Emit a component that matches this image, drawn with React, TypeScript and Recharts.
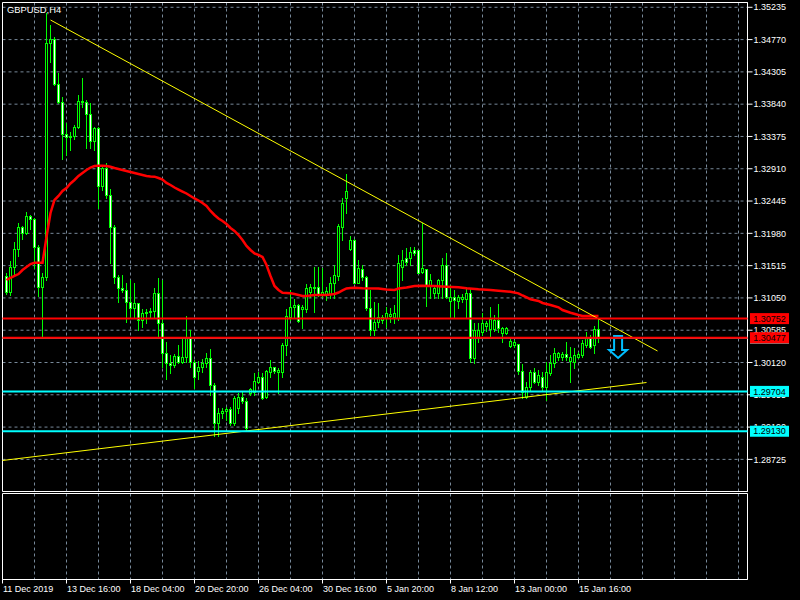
import React from 'react';
import {
  ComposedChart,
  Bar,
  Line,
  XAxis,
  YAxis,
  CartesianGrid,
  ReferenceLine,
  ReferenceArea,
  ReferenceDot,
} from 'recharts';

const FONT = "'Liberation Sans', Arial, sans-serif";
const GREEN = '#00ff00';
const GRID = '#778899';

const chartTitle = 'GBPUSD,H4';

// OHLC of the H4 bars (bar index = position in array)
const opens = [
  1.31366, 1.31135, 1.31495, 1.31754, 1.32071, 1.31985, 1.3223, 1.32186, 1.31783, 1.31207,
  1.31351, 1.34721, 1.34778, 1.3413, 1.33871, 1.3341, 1.33367, 1.33382, 1.33511, 1.33886,
  1.33871, 1.33698, 1.3331, 1.33497, 1.32662, 1.32921, 1.32532, 1.32071, 1.31351, 1.31193,
  1.31164, 1.30991, 1.30905, 1.30977, 1.30732, 1.30833, 1.30847, 1.30862, 1.31121, 1.30689,
  1.30257, 1.30113, 1.30084, 1.30214, 1.30127, 1.30199, 1.30473, 1.30127, 1.29998, 1.30055,
  1.30113, 1.30185, 1.29796, 1.29249, 1.29393, 1.29422, 1.2945, 1.29249, 1.29465, 1.29623,
  1.29566, 1.29681, 1.29695, 1.29839, 1.29911, 1.29623, 1.29983, 1.30055, 1.29983, 1.29983,
  1.30372, 1.30775, 1.30919, 1.30948, 1.3089, 1.3089, 1.31135, 1.31207, 1.31207, 1.31106,
  1.31106, 1.31106, 1.31265, 1.31366, 1.32071, 1.32489, 1.31754, 1.31884, 1.31265, 1.31466,
  1.31351, 1.30905, 1.30588, 1.30703, 1.30732, 1.30761, 1.3079, 1.30775, 1.30761, 1.31495,
  1.31625, 1.31625, 1.3174, 1.3174, 1.31423, 1.31466, 1.31236, 1.31121, 1.31121, 1.31308,
  1.31524, 1.31006, 1.31063, 1.31006, 1.31034, 1.31034, 1.31121, 1.30185, 1.30487, 1.30559,
  1.30646, 1.30602, 1.30602, 1.30732, 1.30545, 1.30545, 1.30358, 1.30372, 1.30386, 1.29998,
  1.29623, 1.29767, 1.29983, 1.29839, 1.29911, 1.29767, 1.29969, 1.30113, 1.30199, 1.30199,
  1.30242, 1.30142, 1.30127, 1.30199, 1.30228, 1.30372, 1.30487, 1.30372, 1.30602,
];
const highs = [
  1.31409, 1.31582, 1.31855, 1.32129, 1.32086, 1.32287, 1.32244, 1.32201, 1.31812, 1.31409,
  1.35153, 1.3498, 1.34807, 1.34289, 1.33943, 1.33569, 1.33439, 1.3354, 1.33972, 1.34217,
  1.339, 1.33857, 1.33511, 1.33511, 1.32964, 1.32993, 1.32618, 1.321, 1.3138, 1.3138,
  1.31265, 1.31308, 1.31265, 1.30977, 1.3089, 1.3089, 1.30905, 1.31193, 1.31337, 1.31308,
  1.30415, 1.30228, 1.30242, 1.30372, 1.30473, 1.3079, 1.30588, 1.30156, 1.30142, 1.3017,
  1.30257, 1.30314, 1.29825, 1.29465, 1.29465, 1.29479, 1.29479, 1.29638, 1.29681, 1.29695,
  1.29609, 1.29753, 1.29969, 1.29983, 1.29969, 1.30012, 1.30156, 1.30055, 1.30041, 1.30401,
  1.3089, 1.31164, 1.31034, 1.30962, 1.30948, 1.3125, 1.3125, 1.31495, 1.31495, 1.31481,
  1.31207, 1.31351, 1.31524, 1.32114, 1.32489, 1.32834, 1.31942, 1.31898, 1.31596, 1.31524,
  1.31366, 1.31164, 1.30991, 1.30977, 1.30804, 1.30919, 1.30905, 1.30948, 1.31668, 1.3174,
  1.31769, 1.31783, 1.31783, 1.3174, 1.32129, 1.31466, 1.31394, 1.31207, 1.31322, 1.31625,
  1.31697, 1.31236, 1.31164, 1.31092, 1.31106, 1.31207, 1.31193, 1.30689, 1.30689, 1.30833,
  1.30718, 1.30919, 1.30804, 1.30962, 1.30631, 1.30631, 1.30458, 1.30444, 1.30386, 1.30098,
  1.29839, 1.30012, 1.30041, 1.30012, 1.29983, 1.30127, 1.30228, 1.30329, 1.30271, 1.30271,
  1.30415, 1.30343, 1.30329, 1.30271, 1.30444, 1.30559, 1.30516, 1.30646, 1.30761,
];
const lows = [
  1.31106, 1.31092, 1.31394, 1.31654, 1.31898, 1.3197, 1.32042, 1.31481, 1.31078, 1.30502,
  1.31308, 1.34447, 1.34116, 1.33857, 1.3305, 1.33108, 1.3318, 1.33338, 1.33497, 1.33799,
  1.33209, 1.33209, 1.3318, 1.32345, 1.32604, 1.32489, 1.31553, 1.31265, 1.30991, 1.31135,
  1.30703, 1.30775, 1.30775, 1.30588, 1.30631, 1.30689, 1.30775, 1.30775, 1.30487, 1.30055,
  1.29882, 1.29969, 1.30055, 1.30113, 1.30113, 1.30127, 1.30055, 1.29753, 1.29882, 1.29983,
  1.30055, 1.29652, 1.29062, 1.29062, 1.29321, 1.29292, 1.2922, 1.2922, 1.29393, 1.29537,
  1.29148, 1.29652, 1.29652, 1.29825, 1.29594, 1.29609, 1.29911, 1.29969, 1.29681, 1.29911,
  1.30228, 1.30732, 1.30775, 1.30703, 1.30617, 1.30847, 1.31063, 1.30847, 1.31078, 1.31063,
  1.3102, 1.31049, 1.31049, 1.31308, 1.31884, 1.32273, 1.3174, 1.31265, 1.31265, 1.31308,
  1.30876, 1.30516, 1.30516, 1.30631, 1.30689, 1.30631, 1.30703, 1.30689, 1.30732, 1.31308,
  1.31524, 1.31524, 1.31668, 1.31409, 1.31409, 1.30934, 1.31049, 1.31049, 1.31049, 1.31049,
  1.31049, 1.30775, 1.30775, 1.30905, 1.30991, 1.30775, 1.30127, 1.30113, 1.30415, 1.30516,
  1.30574, 1.30502, 1.30574, 1.30559, 1.30415, 1.3053, 1.30343, 1.30343, 1.29954, 1.29609,
  1.29609, 1.29724, 1.29825, 1.29796, 1.29724, 1.2958, 1.2994, 1.30055, 1.30156, 1.30156,
  1.30156, 1.29839, 1.30041, 1.30185, 1.30199, 1.30343, 1.30329, 1.30257, 1.30415,
];
const closes = [
  1.31135, 1.31495, 1.31754, 1.32071, 1.31985, 1.3223, 1.32186, 1.31783, 1.31207, 1.31351,
  1.34721, 1.34778, 1.3413, 1.33871, 1.3341, 1.33367, 1.33382, 1.33511, 1.33886, 1.33871,
  1.33698, 1.3331, 1.33497, 1.32662, 1.32921, 1.32532, 1.32071, 1.31351, 1.31193, 1.31164,
  1.30991, 1.30905, 1.30977, 1.30732, 1.30833, 1.30847, 1.30862, 1.31121, 1.30689, 1.30257,
  1.30113, 1.30084, 1.30214, 1.30127, 1.30199, 1.30473, 1.30127, 1.29911, 1.30055, 1.30113,
  1.30185, 1.29796, 1.29249, 1.29393, 1.29422, 1.2945, 1.29249, 1.29609, 1.29623, 1.29566,
  1.29177, 1.29738, 1.29854, 1.29911, 1.29609, 1.29998, 1.30055, 1.29998, 1.30012, 1.30372,
  1.3079, 1.30919, 1.30948, 1.30718, 1.30919, 1.31193, 1.31207, 1.31193, 1.31106, 1.31135,
  1.3115, 1.31265, 1.3138, 1.32086, 1.32417, 1.3259, 1.31884, 1.31265, 1.31481, 1.31351,
  1.30905, 1.30588, 1.30703, 1.30775, 1.30775, 1.30833, 1.30818, 1.30833, 1.31553, 1.31596,
  1.31567, 1.31711, 1.31697, 1.31409, 1.31481, 1.31236, 1.31308, 1.31193, 1.31308, 1.31524,
  1.31063, 1.31063, 1.3102, 1.31063, 1.31063, 1.31121, 1.30185, 1.30588, 1.30588, 1.30689,
  1.30689, 1.30746, 1.30732, 1.30617, 1.30617, 1.30617, 1.3043, 1.30415, 1.29998, 1.29695,
  1.29767, 1.29983, 1.29839, 1.2994, 1.29767, 1.29983, 1.30113, 1.30257, 1.30257, 1.30242,
  1.30199, 1.30199, 1.30228, 1.30242, 1.30401, 1.30487, 1.30343, 1.30602, 1.30487,
];

// Moving average (red), read at selected bars: [bar index, price]
const maPoints: [number, number][] = [
  [0, 1.31308], [1, 1.31337], [2, 1.31366], [3, 1.31394], [4, 1.31452], [5, 1.31495], [6, 1.31538],
  [7, 1.31557], [9, 1.31557], [10, 1.31927], [11, 1.32273], [12, 1.3246], [13, 1.32518], [14, 1.3259],
  [15, 1.32633], [16, 1.32698], [17, 1.32748], [18, 1.32806], [19, 1.32849], [20, 1.32892], [21, 1.32928],
  [22, 1.3295], [23, 1.32954], [24, 1.32954], [25, 1.3295], [26, 1.3294], [27, 1.32921], [28, 1.32907],
  [29, 1.32892], [30, 1.32878], [31, 1.32863], [32, 1.32849], [33, 1.32834], [34, 1.3282], [35, 1.32806],
  [36, 1.32798], [37, 1.32796], [38, 1.32777], [39, 1.32755], [40, 1.32705], [41, 1.32676], [42, 1.3264],
  [43, 1.32611], [44, 1.32582], [45, 1.32554], [46, 1.32518], [47, 1.32482], [48, 1.32453], [49, 1.32417],
  [50, 1.32374], [51, 1.32302], [52, 1.32244], [53, 1.32194], [54, 1.32158], [55, 1.32114], [56, 1.32057],
  [57, 1.32014], [58, 1.31956], [59, 1.31884], [60, 1.31798], [61, 1.3174], [62, 1.3169], [63, 1.31668],
  [64, 1.31639], [65, 1.31524], [66, 1.31366], [67, 1.31222], [68, 1.31164], [69, 1.31125], [70, 1.31121],
  [71, 1.31116], [72, 1.31106], [73, 1.31092], [74, 1.31078], [75, 1.31078], [76, 1.31085], [77, 1.31092],
  [80, 1.31092], [81, 1.31099], [82, 1.31106], [83, 1.31128], [84, 1.31157], [85, 1.31186], [86, 1.31193],
  [87, 1.31197], [89, 1.31188], [93, 1.31186], [95, 1.31171], [97, 1.31164], [98, 1.31186], [100, 1.312],
  [102, 1.31222], [104, 1.31226], [107, 1.31222], [110, 1.31212], [113, 1.31203], [115, 1.31188],
  [118, 1.31174], [121, 1.31164], [123, 1.31154], [126, 1.31139], [128, 1.31116], [129, 1.31085],
  [131, 1.31031], [133, 1.31006], [134, 1.30977], [136, 1.30948], [138, 1.30915], [139, 1.30876],
  [141, 1.30837], [143, 1.30804], [144, 1.3079], [148, 1.3079],
];

const priceTicks = [
  1.35235, 1.3477, 1.34305, 1.3384, 1.33375, 1.3291, 1.32445, 1.3198, 1.31515, 1.3105, 1.30585,
  1.3012, 1.29655, 1.2919, 1.28725,
];
const timeTicks = [0, 16, 32, 48, 64, 80, 96, 112, 128, 144];
const timeLabels = [
  '11 Dec 2019', '13 Dec 16:00', '18 Dec 04:00', '20 Dec 20:00', '26 Dec 04:00',
  '30 Dec 16:00', '5 Jan 20:00', '8 Jan 12:00', '13 Jan 00:00', '15 Jan 16:00',
];
const gridSlots = [8, 16, 24, 32, 40, 48, 56, 64, 72, 80, 88, 96, 104, 112, 120, 128, 136, 144, 152, 160, 168, 176, 184];

const resistanceLevels = [1.30752, 1.30477];
const supportLevels = [1.29704, 1.2913];
const bidPrice = 1.30466;
const upperTrend = [{ x: 12, y: 1.35052 }, { x: 163.75, y: 1.30286 }];
const lowerTrend = [{ x: 0, y: 1.28709 }, { x: 161, y: 1.29832 }];
const sellSignal = { x: 153.9, y: 1.30343 };

const X_DOMAIN: [number, number] = [0, 186.25];
const Y_DOMAIN: [number, number] = [1.282624, 1.35304];

const bars = opens.map((o, i) => ({
  x: i + 1,
  open: o,
  high: highs[i],
  low: lows[i],
  close: closes[i],
  range: [lows[i], highs[i]],
  ma: null as number | null,
}));
maPoints.forEach(([i, v]) => {
  bars[i].ma = v;
});

const Candle = (props: any) => {
  const { x, y, width, height, payload } = props;
  if (!payload || x == null || y == null) return null;
  const { open, close, high, low } = payload;
  const top = Math.min(y, y + height);
  const h = Math.abs(height);
  const span = high - low;
  const py = (v: number) => (span > 0 ? top + ((high - v) / span) * h : top);
  const cx = Math.floor(x + width / 2);
  const bodyTop = Math.round(py(Math.max(open, close)));
  const bodyBot = Math.round(py(Math.min(open, close)));
  const bh = Math.max(bodyBot - bodyTop, 0);
  const wTop = Math.round(top);
  const wBot = Math.round(top + h);
  const bull = close >= open;
  return (
    <g>
      <rect x={cx} y={wTop} width={1} height={Math.max(1, wBot - wTop + 1)} fill={GREEN} />
      <rect x={cx - 1} y={bodyTop} width={3} height={bh + 1} fill={GREEN} />
      {bh >= 2 && (
        <rect x={cx} y={bodyTop + 1} width={1} height={bh - 1} fill={bull ? '#000' : '#fff'} />
      )}
    </g>
  );
};

const PriceTag = (props: any) => {
  const { viewBox, bg, value } = props;
  if (!viewBox) return null;
  const x = viewBox.x + viewBox.width + 2.5;
  const y = viewBox.y;
  return (
    <g>
      <rect x={x} y={y - 5.5} width={39} height={11} fill={bg} />
      <text
        x={x + 19.5}
        y={y}
        dy="0.35em"
        textAnchor="middle"
        fontSize={9}
        fontFamily={FONT}
        fill="#000"
      >
        {value.toFixed(5)}
      </text>
    </g>
  );
};

const ArrowDown = (props: any) => {
  const { cx, cy } = props;
  if (cx == null || cy == null) return null;
  const d = `M${cx - 4},${cy - 11} L${cx + 4},${cy - 11} L${cx + 4},${cy + 3} L${cx + 9},${cy + 3} L${cx},${cy + 11} L${cx - 9},${cy + 3} L${cx - 4},${cy + 3} Z`;
  return <path d={d} fill="none" stroke="#00bfff" strokeWidth={2} />;
};

const TimeTick = (props: any) => {
  const { x, y, payload } = props;
  const idx = timeTicks.indexOf(payload.value);
  return (
    <text x={x + 0.5} y={y} dy="0.71em" textAnchor="start" fontSize={9} fontFamily={FONT} fill="#fff">
      {idx >= 0 ? timeLabels[idx] : ''}
    </text>
  );
};

export default function App() {
  return (
    <div
      style={{
        position: 'absolute',
        left: 0,
        top: 0,
        width: 800,
        height: 600,
        background: '#000',
        overflow: 'hidden',
      }}
    >
      {/* main price panel */}
      <div style={{ position: 'absolute', left: 0, top: 0 }}>
        <ComposedChart
          width={800}
          height={492}
          data={bars}
          margin={{ top: 2.5, right: 0, bottom: 0.5, left: 2.5 }}
        >
          <CartesianGrid stroke={GRID} strokeDasharray="3 3" verticalValues={gridSlots} />
          <XAxis type="number" dataKey="x" domain={X_DOMAIN} allowDataOverflow hide />
          <YAxis
            orientation="right"
            width={52.5}
            type="number"
            domain={Y_DOMAIN}
            allowDataOverflow
            ticks={priceTicks}
            interval={0}
            tickSize={5}
            tickMargin={1}
            axisLine={{ stroke: '#fff' }}
            tickLine={{ stroke: '#fff' }}
            tick={{ fill: '#fff', fontSize: 9, fontFamily: FONT }}
            tickFormatter={(v: number) => v.toFixed(5)}
          />
          <Bar dataKey="range" barSize={3} shape={<Candle />} isAnimationActive={false} />
          <Line
            type="linear"
            dataKey="ma"
            stroke="#ff0000"
            strokeWidth={2.5}
            dot={false}
            connectNulls
            isAnimationActive={false}
          />
          <ReferenceLine segment={upperTrend} stroke="#ffff00" strokeWidth={1} />
          <ReferenceLine segment={lowerTrend} stroke="#ffff00" strokeWidth={1} />
          <ReferenceDot x={sellSignal.x} y={sellSignal.y} r={10} shape={<ArrowDown />} />
          <ReferenceArea
            x1={X_DOMAIN[0]}
            x2={X_DOMAIN[1]}
            y1={Y_DOMAIN[0]}
            y2={Y_DOMAIN[1]}
            fill="none"
            stroke="#fff"
            strokeWidth={1}
          />
        </ComposedChart>
      </div>

      {/* horizontal level lines with their price tags, drawn over the price axis */}
      <div style={{ position: 'absolute', left: 0, top: 0 }}>
        <ComposedChart
          width={800}
          height={492}
          data={bars}
          margin={{ top: 2.5, right: 52.5, bottom: 0.5, left: 2.5 }}
        >
          <XAxis type="number" dataKey="x" domain={X_DOMAIN} allowDataOverflow hide />
          <YAxis hide type="number" domain={Y_DOMAIN} allowDataOverflow />
          <Line dataKey="close" stroke="none" dot={false} isAnimationActive={false} />
          <ReferenceLine
            y={bidPrice}
            stroke="#808080"
            strokeWidth={1}
            label={<PriceTag bg="#808080" value={bidPrice} />}
          />
          {resistanceLevels.map((v) => (
            <ReferenceLine
              key={v}
              y={v}
              stroke="#ff0000"
              strokeWidth={2}
              label={<PriceTag bg="#ff0000" value={v} />}
            />
          ))}
          {supportLevels.map((v) => (
            <ReferenceLine
              key={v}
              y={v}
              stroke="#00ffff"
              strokeWidth={2}
              label={<PriceTag bg="#00ffff" value={v} />}
            />
          ))}
        </ComposedChart>
      </div>

      {/* empty lower panel with the time axis */}
      <div style={{ position: 'absolute', left: 0, top: 492 }}>
        <ComposedChart
          width={800}
          height={108}
          data={bars}
          margin={{ top: 1.5, right: 52.5, bottom: 0, left: 2.5 }}
        >
          <CartesianGrid stroke={GRID} strokeDasharray="3 3" horizontal={false} verticalValues={gridSlots} />
          <XAxis
            type="number"
            dataKey="x"
            domain={X_DOMAIN}
            allowDataOverflow
            ticks={timeTicks}
            interval={0}
            height={20.5}
            tickSize={4}
            axisLine={{ stroke: '#fff' }}
            tickLine={{ stroke: '#fff' }}
            tick={<TimeTick />}
          />
          <YAxis hide type="number" domain={Y_DOMAIN} allowDataOverflow />
          <Line dataKey="close" stroke="none" dot={false} isAnimationActive={false} />
          <ReferenceArea
            x1={X_DOMAIN[0]}
            x2={X_DOMAIN[1]}
            y1={Y_DOMAIN[0]}
            y2={Y_DOMAIN[1]}
            fill="none"
            stroke="#fff"
            strokeWidth={1}
          />
        </ComposedChart>
      </div>

      <svg
        width={120}
        height={20}
        style={{ position: 'absolute', left: 0, top: 0, pointerEvents: 'none' }}
      >
        <text x={7} y={12.8} fontSize={9.4} fontFamily={FONT} fill="#fff">
          {chartTitle}
        </text>
      </svg>
    </div>
  );
}
